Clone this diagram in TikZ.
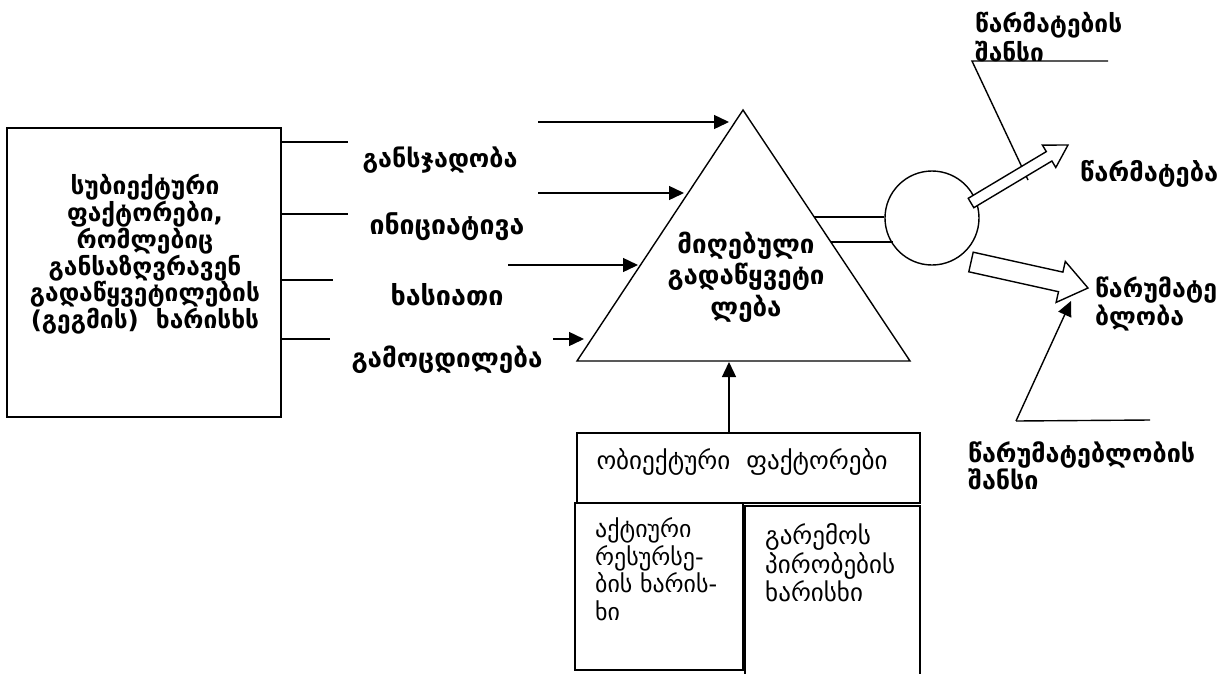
\documentclass[tikz,border=0pt]{standalone}
\usepackage{fontspec}
\setmainfont{DejaVu Sans}
\usetikzlibrary{arrows.meta}
\newlength\mytmpw
\newcommand\fitfs[4]{%
  \settowidth\mytmpw{\normalfont#2\fontsize{10}{12}\selectfont #4}%
  \pgfmathsetmacro#1{10*#3/\mytmpw}}
\begin{document}
% font sizes fitted to the widths of the reference lines
\fitfs\fsBox{\bfseries}{230}{გადაწყვეტილების}%
\fitfs\fsLa{\bfseries}{155}{განსჯადობა}%
\fitfs\fsLb{\bfseries}{155}{ინიციატივა}%
\fitfs\fsLc{\bfseries}{113}{ხასიათი}%
\fitfs\fsLd{\bfseries}{191}{გამოცდილება}%
\fitfs\fsTri{\bfseries}{157}{გადაწყვეტი}%
\fitfs\fsSc{\bfseries}{147}{წარმატების}%
\fitfs\fsSu{\bfseries}{138}{წარმატება}%
\fitfs\fsFa{\bfseries}{122}{წარუმატე}%
\fitfs\fsFc{\bfseries}{227}{წარუმატებლობის}%
\fitfs\fsOb{}{291}{ობიექტური~~ფაქტორები}%
\fitfs\fsAk{}{122}{ბის ხარის-}%
\fitfs\fsGa{}{130}{პირობების}%
\begin{tikzpicture}[x=1pt,y=-1pt,
  tx/.style={inner sep=0pt, align=center},
  txl/.style={inner sep=0pt, align=left, anchor=west},
  bx/.style={draw, line width=1.5pt, inner sep=0pt},
  ln/.style={line width=1.4pt},
  arr/.style={line width=1.4pt, -{Triangle[length=15pt,width=14pt]}},
  blk/.style={draw, line width=1.4pt, fill=white, line join=miter}
]
\useasboundingbox (0,0) rectangle (1227,673);

% left box
\node[bx, minimum width=274pt, minimum height=289pt] (lbox) at (144,272.5) {};
\node[tx, font=\bfseries\fontsize{\fsBox}{26}\selectfont] (ltext) at (145,254)
  {სუბიექტური\\ფაქტორები,\\რომლებიც\\განსაზღვრავენ\\გადაწყვეტილების\\(გეგმის)~~ხარისხს};

% stubs
\coordinate (s1) at (348,142);
\coordinate (s2) at (348,214);
\coordinate (s3) at (333,280);
\coordinate (s4) at (330,339);
\foreach \s in {s1,s2,s3,s4} \draw[ln] (lbox.east |- \s) -- (\s);

% labels
\node[tx, font=\bfseries\fontsize{\fsLa}{26}\selectfont] (l1) at (440,160) {განსჯადობა};
\node[tx, font=\bfseries\fontsize{\fsLb}{26}\selectfont] (l2) at (447,227) {ინიციატივა};
\node[tx, font=\bfseries\fontsize{\fsLc}{26}\selectfont] (l3) at (447,295) {ხასიათი};
\node[tx, font=\bfseries\fontsize{\fsLd}{26}\selectfont] (l4) at (447,360) {გამოცდილება};

% triangle
\coordinate (apex) at (743,110);
\coordinate (bl) at (577,361);
\coordinate (br) at (910,361);
\draw[ln, line join=miter] (apex) -- (bl) -- (br) -- cycle;
\node[tx, font=\bfseries\fontsize{\fsTri}{31.5}\selectfont] (ttext) at (746,277) {მიღებული\\გადაწყვეტი\\ლება};

% input arrows
\coordinate (a1s) at (538,122); \coordinate (a1e) at (729,122);
\coordinate (a2s) at (538,193); \coordinate (a2e) at (684,193);
\coordinate (a3s) at (508,265); \coordinate (a3e) at (638,265);
\coordinate (a4s) at (553,339); \coordinate (a4e) at (584,339);
\draw[arr] (a1s) -- (a1e);
\draw[arr] (a2s) -- (a2e);
\draw[arr] (a3s) -- (a3e);
\draw[arr] (a4s) -- (a4e);

% circle
\node[draw, circle, line width=1.4pt, minimum size=94pt, inner sep=0pt] (circ) at (932,218) {};
\coordinate (c1) at (814.2,217);
\coordinate (c2) at (830.8,242);
\draw[ln] (c1) -- (circ.west |- c1);
\draw[ln] (c2) -- (892.8,242);

% success chance
\node[txl, font=\bfseries\fontsize{\fsSc}{29}\selectfont] (sch) at (975,37) {წარმატების\\შანსი};
\coordinate (u1) at (972,61);
\coordinate (u2) at (1108,61);
\coordinate (u3) at (1028,180);
\draw[ln] (u2) -- (u1) -- (u3);

% block arrow up-right
\draw[blk] (973.8,207.7) -- (968.2,198.3) -- (1046.3,151.6) -- (1042.4,145.1) -- (1068,145)
  -- (1055.8,167.5) -- (1051.9,161.0) -- cycle;
\node[txl, font=\bfseries\fontsize{\fsSu}{28}\selectfont] (succ) at (1080,174) {წარმატება};

% block arrow down-right
\draw[blk] (973.2,252.2) -- (1062.9,272.1) -- (1065.3,261.4) -- (1088,288)
  -- (1056.1,302.4) -- (1058.5,291.7) -- (968.8,271.8) -- cycle;
\node[txl, font=\bfseries\fontsize{\fsFa}{28}\selectfont] (fail) at (1095,304) {წარუმატე\\ბლობა};

% failure chance
\coordinate (f1) at (1150,420);
\coordinate (f2) at (1016,421);
\coordinate (f3) at (1071,301);
\draw[ln] (f1) -- (f2);
\draw[arr] (f2) -- (f3);
\node[txl, font=\bfseries\fontsize{\fsFc}{27}\selectfont] (fch) at (968,466) {წარუმატებლობის\\შანსი};

% objective factors
\node[bx, minimum width=343pt, minimum height=70pt] (obox) at (748.5,468) {};
\node[tx, font=\fontsize{\fsOb}{28}\selectfont] (otext) at (742,462) {ობიექტური~~ფაქტორები};
\draw[arr] (obox.north -| 729,0) -- (729,362);
\node[bx, minimum width=168pt, minimum height=167pt, fill=white] (abox) at (659,586.5) {};
\node[txl, font=\fontsize{\fsAk}{27.5}\selectfont] (atext) at (595,569) {აქტიური\\რესურსე-\\ბის ხარის-\\ხი};
\coordinate (g1) at (745,680);
\coordinate (g2) at (745,506);
\coordinate (g3) at (920,506);
\coordinate (g4) at (920,680);
\draw[line width=1.5pt] (g1) -- (g2) -- (g3) -- (g4);
\node[txl, font=\fontsize{\fsGa}{28.5}\selectfont] (gtext) at (765,563) {გარემოს\\პირობების\\ხარისხი};
\end{tikzpicture}
\end{document}
